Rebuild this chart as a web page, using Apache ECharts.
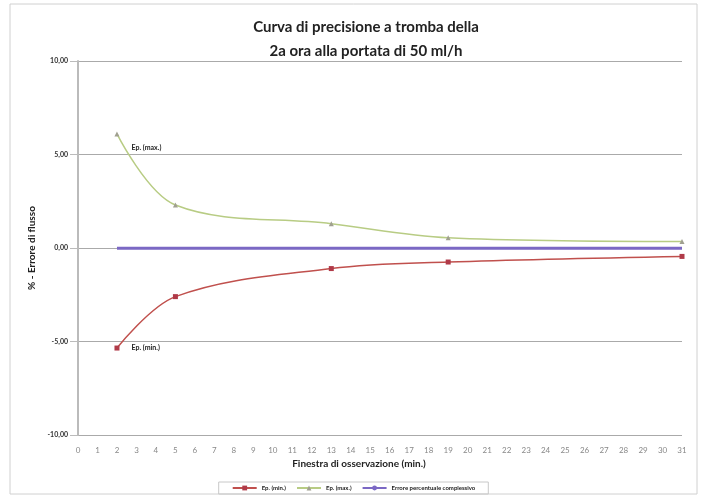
<!DOCTYPE html>
<html><head><meta charset="utf-8">
<script src="https://cdn.jsdelivr.net/npm/echarts@6/dist/echarts.min.js"></script>
<style>html,body{margin:0;padding:0;background:#fff}#c{width:707px;height:497px}</style>
</head><body><div id="c"></div>
<script>
const windows = [2, 5, 13, 19, 31];
const epMin = [-5.35, -2.6, -1.1, -0.75, -0.45];
const epMax = [6.1, 2.3, 1.3, 0.55, 0.35];
const overall = [-0.02, -0.02, -0.02, -0.02, -0.02];
const titleLines = ['Curva di precisione a tromba della', '2a ora alla portata di 50 ml/h'];
const pair = (xs, ys) => xs.map((x, i) => [x, ys[i]]);
const fmt = v => v.toFixed(2).replace('.', ',');
const chart = echarts.init(document.getElementById('c'));
const font = 'Lato, "Open Sans", sans-serif';
chart.setOption({
  animation: false,
  backgroundColor: '#fff',
  title: { text: titleLines.join('\n'), left: 361, top: 10, textAlign: 'center',
    textStyle: { fontFamily: font, fontSize: 15, fontWeight: 'bold', color: '#222', lineHeight: 24 } },
  graphic: [
    { type: 'rect', shape: { x: 10, y: 4, width: 687, height: 490 }, style: { fill: 'none', stroke: '#d0d0d0', lineWidth: 1 } }
  ],
  legend: {
    bottom: 3, left: 'center', itemWidth: 24, itemHeight: 6, itemGap: 10,
    padding: [3, 13], borderColor: '#c8c8c8', borderWidth: 1,
    textStyle: { fontFamily: font, fontSize: 6, fontWeight: 'bold', color: '#222' },
    data: ['Ep. (min.)', 'Ep. (max.)', 'Errore percentuale complessivo']
  },
  grid: { left: 78, right: 25, top: 61, bottom: 62 },
  xAxis: {
    type: 'value', min: 0, max: 31, interval: 1,
    name: 'Finestra di osservazione (min.)', nameLocation: 'middle', nameGap: 23,
    nameTextStyle: { fontFamily: font, fontSize: 10, fontWeight: 'bold', color: '#222', padding: [0, 42, 0, 0] },
    axisLine: { show: false },
    axisTick: { show: false },
    axisLabel: { fontFamily: font, fontSize: 8, color: '#888', margin: 11 },
    splitLine: { show: false }
  },
  yAxis: {
    type: 'value', min: -10, max: 10, interval: 5,
    name: '% - Errore di flusso', nameLocation: 'middle', nameGap: 34,
    nameTextStyle: { fontFamily: font, fontSize: 10, fontWeight: 'bold', color: '#222' },
    axisLine: { show: true, onZero: false, lineStyle: { color: '#bbb', width: 2 } },
    axisTick: { show: true, length: 8, inside: false, lineStyle: { color: '#bbb' } },
    axisLabel: { fontFamily: font, fontSize: 7, fontWeight: 'bold', color: '#333', formatter: fmt, margin: 10 },
    splitLine: { show: true, lineStyle: { color: '#aaa', width: 1 } }
  },
  series: [
    { name: 'Ep. (min.)', type: 'line', smooth: 0.35, data: pair(windows, epMin),
      symbol: 'rect', symbolSize: 5, color: '#c0504d',
      lineStyle: { color: '#c0504d', width: 1.5 }, itemStyle: { color: '#b03a48' },
      label: { show: true, formatter: p => p.dataIndex === 0 ? 'Ep. (min.)' : '', position: 'right', distance: 12,
        fontFamily: font, fontSize: 7, fontWeight: 'bold', color: '#222' } },
    { name: 'Ep. (max.)', type: 'line', smooth: 0.35, data: pair(windows, epMax),
      symbol: 'triangle', symbolSize: 5, color: '#b8cc84',
      lineStyle: { color: '#b8cc84', width: 1.5 }, itemStyle: { color: '#a0a090' },
      label: { show: true, formatter: p => p.dataIndex === 0 ? 'Ep. (max.)' : '', position: 'right', distance: 12, offset: [0, 14],
        fontFamily: font, fontSize: 7, fontWeight: 'bold', color: '#222' } },
    { name: 'Errore percentuale complessivo', type: 'line', data: pair(windows, overall),
      symbol: 'none', color: '#7b68c4', lineStyle: { color: '#7b68c4', width: 3 } }
  ]
});
</script></body></html>
